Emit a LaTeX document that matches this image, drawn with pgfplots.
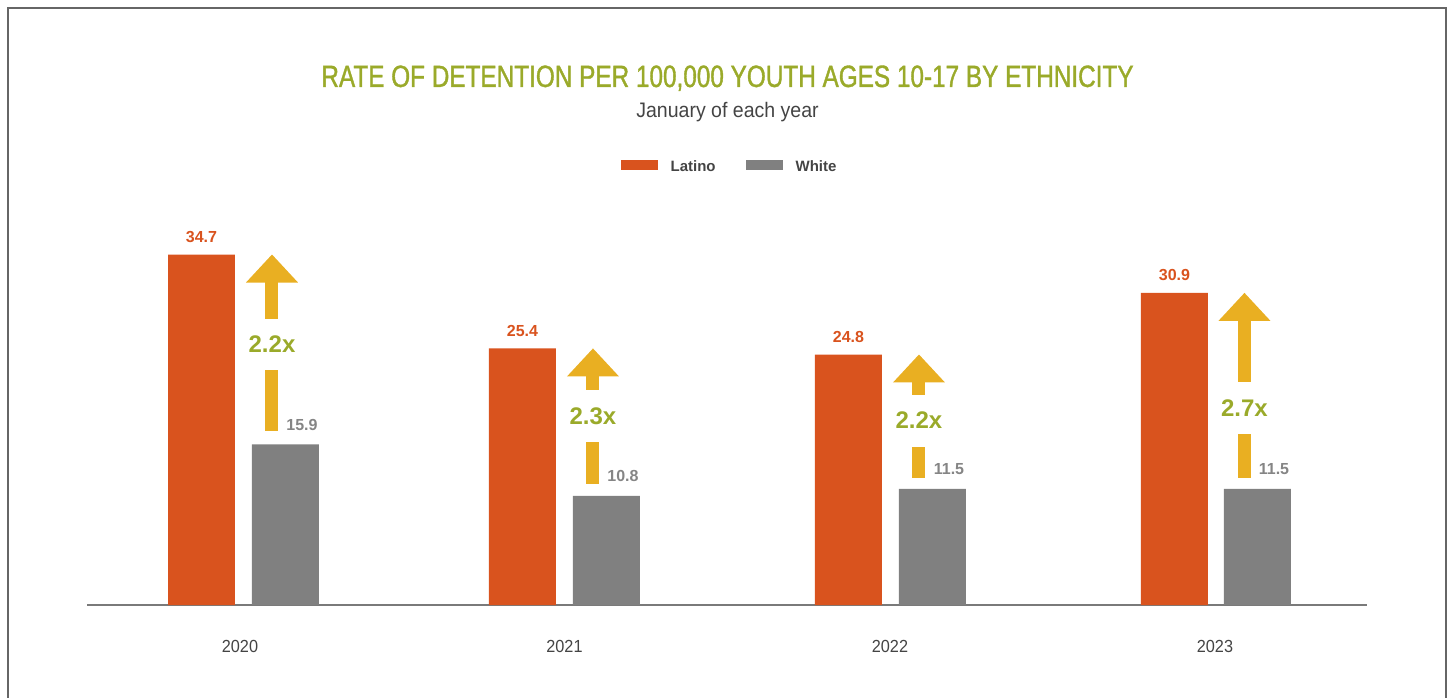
\documentclass[border=0pt]{standalone}
\usepackage{fontspec}
\setmainfont{Liberation Sans}
\newfontfamily\titlefont{Liberation Sans}[FakeStretch=0.79,FakeBold=1.2]
\newfontfamily\subfont{Liberation Sans}[FakeStretch=0.93]
\usepackage{pgfplots}
\pgfplotsset{compat=1.18}
\definecolor{latino}{HTML}{D9531E}
\definecolor{whitebar}{HTML}{808080}
\definecolor{arrowy}{HTML}{E9AF22}
\definecolor{olive}{HTML}{9AAA2A}
\definecolor{txtgray}{HTML}{444444}
\definecolor{lblgray}{HTML}{858585}
\definecolor{framegray}{HTML}{666666}
\definecolor{axisgray}{HTML}{7A7A7A}

% x, tip, base, shaft bottom, text y, label, lower top, lower bottom
\newcommand{\ratioarrow}[8]{%
  \fill[arrowy] (axis cs:#1-26,#3) -- (axis cs:#1,#2) -- (axis cs:#1+26,#3) -- cycle;
  \fill[arrowy] (axis cs:#1-6.5,#4) rectangle (axis cs:#1+6.5,#3+0.05);
  \node[text=olive, font=\bfseries\fontsize{12bp}{14bp}\selectfont, inner sep=0pt] at (axis cs:#1,#5) {#6};
  \fill[arrowy] (axis cs:#1-6.5,#8) rectangle (axis cs:#1+6.5,#7);
}

\begin{document}
\begin{tikzpicture}
\path[use as bounding box] (0,0) rectangle (726bp,349bp);
\draw[framegray, line width=1bp] (4bp,-1bp) -- (4bp,344.75bp) -- (723bp,344.75bp) -- (723bp,-1bp);

\node[anchor=base, text=olive, font=\titlefont\fontsize{15.4bp}{18bp}\selectfont, inner sep=0pt]
  at (363.75bp,305.5bp) {RATE OF DETENTION PER 100,000 YOUTH AGES 10-17 BY ETHNICITY};
\node[anchor=base, text=txtgray, font=\subfont\fontsize{10.5bp}{12bp}\selectfont, inner sep=0pt]
  at (363.75bp,290bp) {January of each year};

\begin{axis}[
  at={(43.5bp,46.5bp)}, anchor=south west,
  x=0.5bp, y=5.05bp,
  xmin=87, xmax=1367, ymin=0, ymax=36,
  axis x line=bottom, axis y line=none,
  x axis line style={-, draw=axisgray, line width=1bp},
  xtick={240,564.5,890,1215},
  xticklabels={2020,2021,2022,2023},
  major tick length=0pt, xtick style={draw=none},
  xticklabel style={font=\subfont\fontsize{8.75bp}{10bp}\selectfont, text=txtgray, anchor=base, inner sep=0pt, yshift=-23.5bp},
  ytick=\empty,
  clip=false,
  /pgf/number format/assume math mode=true,
  legend style={at={(0.5012,1.2032)}, anchor=center, draw=none, fill=none,
    legend columns=2, font=\bfseries\fontsize{7.5bp}{9bp}\selectfont, text=txtgray,
    nodes={inner sep=0pt}, inner sep=0pt,
    /tikz/every odd column/.append style={column sep=6.5bp},
    /tikz/every even column/.append style={column sep=15bp}},
]
\addplot[ybar, bar width=67, bar shift=0pt, fill=latino, draw=none,
  nodes near coords,
  nodes near coords style={font=\bfseries\fontsize{8bp}{9.6bp}\selectfont, text=latino, inner sep=0pt, yshift=5.75bp},
  legend image code/.code={\fill[latino] (0bp,-1.25bp) rectangle (18.5bp,3.75bp);}]
  coordinates {(201.5,34.7) (522.5,25.4) (848.5,24.8) (1174.5,30.9)};
\addlegendentry{Latino}
\addplot[ybar, bar width=67, bar shift=0pt, fill=whitebar, draw=none,
  nodes near coords,
  nodes near coords style={font=\bfseries\fontsize{8bp}{9.6bp}\selectfont, text=lblgray, inner sep=0pt, xshift=8.25bp, yshift=6.75bp},
  legend image code/.code={\fill[whitebar] (0bp,-1.25bp) rectangle (18.5bp,3.75bp);}]
  coordinates {(285.5,15.9) (606.5,10.8) (932.5,11.5) (1257.5,11.5)};
\addlegendentry{White}

\ratioarrow{272}{34.7}{31.93}{28.32}{25.84}{2.2x}{23.27}{17.2}
\ratioarrow{593}{25.4}{22.63}{21.24}{18.66}{2.3x}{16.09}{11.98}
\ratioarrow{919}{24.8}{22.03}{20.84}{18.27}{2.2x}{15.69}{12.6}
\ratioarrow{1244.5}{30.9}{28.13}{22.08}{19.5}{2.7x}{16.93}{12.6}
\end{axis}
\end{tikzpicture}
\end{document}
